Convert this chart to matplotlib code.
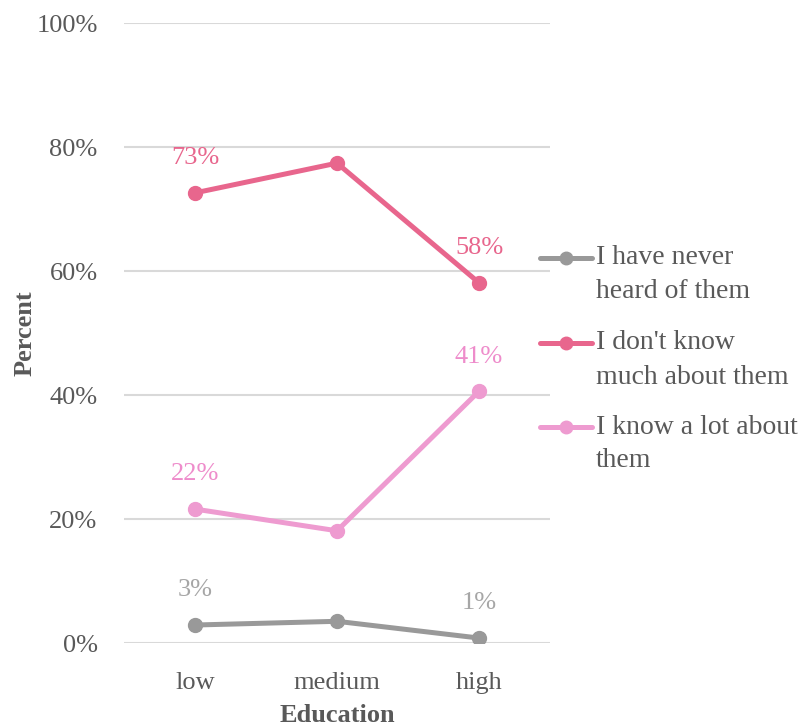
import matplotlib.pyplot as plt
from matplotlib.lines import Line2D
import numpy as np

# Awareness by education level
education = ["low", "medium", "high"]
never_heard = [2.9, 3.5, 0.8]
dont_know_much = [72.6, 77.4, 58.1]
know_a_lot = [21.6, 18.1, 40.6]

series_names = [["I have never", "heard of them"],
                ["I don't know", "much about them"],
                ["I know a lot about", "them"]]
colors = ["#999999", "#E8668D", "#EE9BD0"]
label_colors = ["#A6A6A6", "#E8668D", "#EE8CCB"]

plt.rcParams['font.family'] = ['Liberation Serif', 'DejaVu Serif']

W, H = 811, 727
fig = plt.figure(figsize=(W / 100, H / 100), dpi=100)
ax = fig.add_axes([124/W, 84/H, 426/W, 620/H])

x = np.arange(len(education))
for vals, col, lcol in zip([never_heard, dont_know_much, know_a_lot],
                           colors, label_colors):
    ax.plot(x, vals, color=col, lw=3.6, marker='o', ms=10,
            solid_capstyle='round', zorder=3)
    # value labels only at the ends
    for i in (0, len(x) - 1):
        ax.annotate(f"{vals[i]:.0f}%", (x[i], vals[i]), xytext=(0, 25),
                    textcoords='offset points', ha='center', va='center',
                    fontsize=19, color=lcol)

ax.set_xlim(-0.5, 2.5)
ax.set_ylim(0, 100)
ax.set_yticks(range(0, 101, 20))
ax.set_yticklabels([f"{v}%" for v in range(0, 101, 20)])
ax.set_xticks(x)
ax.set_xticklabels(education)
ax.tick_params(length=0, labelsize=19, labelcolor='#595959', pad=19)
ax.tick_params(axis='x', pad=21)
ax.grid(axis='y', color='#D9D9D9', lw=1.5)
ax.set_axisbelow(True)
for s in ax.spines.values():
    s.set_visible(False)

ax.set_xlabel("Education", fontsize=19, fontweight='bold', color='#595959', labelpad=7)
ax.set_ylabel("Percent", fontsize=19, fontweight='bold', color='#595959', labelpad=0)

# legend keys drawn by hand so the marker lines up with the first text line
rows = [258, 343, 427]
for (l1, l2), col, yr in zip(series_names, colors, rows):
    yf = 1 - yr / H
    fig.add_artist(Line2D([540/W, 566/W, 592/W], [yf, yf, yf], color=col, lw=3.6,
                          marker='o', ms=9, markevery=[1], solid_capstyle='round'))
    fig.text(596/W, yf, l1, fontsize=20, color='#595959', va='center', ha='left')
    fig.text(596/W, 1 - (yr + 34) / H, l2, fontsize=20, color='#595959',
             va='center', ha='left')

fig.savefig("out.png", dpi=100)
